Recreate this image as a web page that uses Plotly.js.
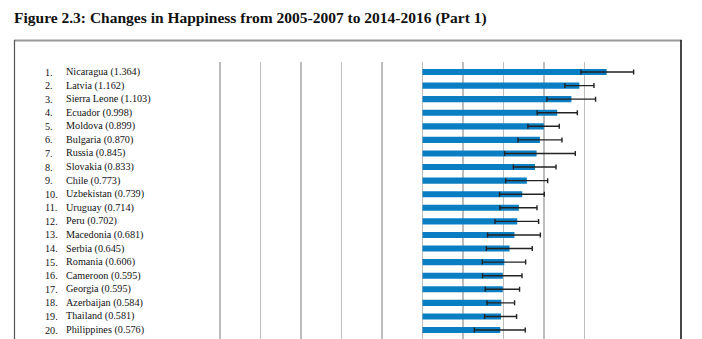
<!DOCTYPE html>
<html>
<head>
<meta charset="utf-8">
<script src="https://cdn.plot.ly/plotly-3.0.1.min.js"></script>
<style>
html,body{margin:0;padding:0;overflow:hidden;background:#fff;}
#chart{width:702px;height:400px;}
</style>
</head>
<body>
<div id="chart"></div>
<script>
var countries = ["Nicaragua","Latvia","Sierra Leone","Ecuador","Moldova","Bulgaria","Russia","Slovakia","Chile","Uzbekistan","Uruguay","Peru","Macedonia","Serbia","Romania","Cameroon","Georgia","Azerbaijan","Thailand","Philippines"];
var changes = [1.364,1.162,1.103,0.998,0.899,0.870,0.845,0.833,0.773,0.739,0.714,0.702,0.681,0.645,0.606,0.595,0.595,0.584,0.581,0.576];
var errMinus = [0.190,0.107,0.181,0.148,0.118,0.163,0.237,0.160,0.157,0.168,0.140,0.165,0.199,0.172,0.163,0.150,0.130,0.106,0.121,0.192];
var errPlus  = [0.200,0.108,0.179,0.149,0.114,0.163,0.287,0.156,0.154,0.163,0.134,0.158,0.192,0.168,0.158,0.142,0.124,0.098,0.116,0.185];
var gridVals = [-1.5,-1.2,-0.9,-0.6,-0.3,0,0.3,0.6,0.9,1.2];
var titleText = "Figure 2.3: Changes in Happiness from 2005-2007 to 2014-2016 (Part 1)";

var W = 702, H = 400;
var mL = 215, mR = 23, mT = 62, mB = 0;
var pw = W - mL - mR, ph = H - mT - mB;
var pxPerUnit = 135;
var xMin = -1.5 - (220 - mL) / pxPerUnit;
function px2paperX(p){ return (p - mL) / pw; }
function px2paperY(p){ return 1 - (p - mT) / ph; }

var serif = "Liberation Serif, Times New Roman, serif";
var annotations = [];
countries.forEach(function(c, i){
  annotations.push({xref:'paper', yref:'y', x:px2paperX(42.5), y:c, xanchor:'left', yanchor:'middle',
    text:(i+1)+".", showarrow:false, font:{family:serif, size:10.2, color:'#111'}});
  annotations.push({xref:'paper', yref:'y', x:px2paperX(63.5), y:c, xanchor:'left', yanchor:'middle',
    text:c+" ("+changes[i].toFixed(3)+")", showarrow:false, font:{family:serif, size:10.2, color:'#111'}});
});

var shapes = [
  {type:'line', xref:'paper', yref:'paper', x0:px2paperX(14), x1:px2paperX(682), y0:px2paperY(40.5), y1:px2paperY(40.5), line:{color:'#999', width:2}},
  {type:'line', xref:'paper', yref:'paper', x0:px2paperX(14.5), x1:px2paperX(14.5), y0:px2paperY(40), y1:-0.2, line:{color:'#555', width:1.2}},
  {type:'line', xref:'paper', yref:'paper', x0:px2paperX(681), x1:px2paperX(681), y0:px2paperY(40), y1:-0.2, line:{color:'#333', width:1.8}}
];

var trace = {
  type:'bar', orientation:'h',
  x: changes, y: countries,
  marker:{color:'#0A7EC2', line:{width:0}},
  error_x:{type:'data', symmetric:false, array:errPlus, arrayminus:errMinus, color:'#222', thickness:1.4, width:2.5},
  hoverinfo:'none'
};

var rowPx = 13.58;
var yTop = -(72 - mT) / rowPx;
var yBot = yTop + ph / rowPx;

var layout = {
  width:W, height:H,
  margin:{l:mL, r:mR, t:mT, b:mB, pad:0},
  paper_bgcolor:'#fff', plot_bgcolor:'#fff',
  showlegend:false,
  bargap:0.55,
  title:{text:"<b>"+titleText+"</b>", x:14/W, xref:'container', xanchor:'left', y:1-18/H, yref:'container', yanchor:'middle',
    font:{family:serif, size:15.5, color:'#111'}},
  xaxis:{range:[xMin, xMin + pw/pxPerUnit], tickvals:gridVals, showticklabels:false, ticks:'', showgrid:true,
    gridcolor:'#bdbdbd', gridwidth:1.6, zeroline:false, showline:false, fixedrange:true},
  yaxis:{type:'category', categoryorder:'array', categoryarray:countries, range:[yBot, yTop],
    showticklabels:false, ticks:'', showgrid:false, zeroline:false, showline:false, fixedrange:true},
  annotations:annotations,
  shapes:shapes
};

Plotly.newPlot('chart', [trace], layout, {staticPlot:true, displayModeBar:false});
</script>
</body>
</html>
